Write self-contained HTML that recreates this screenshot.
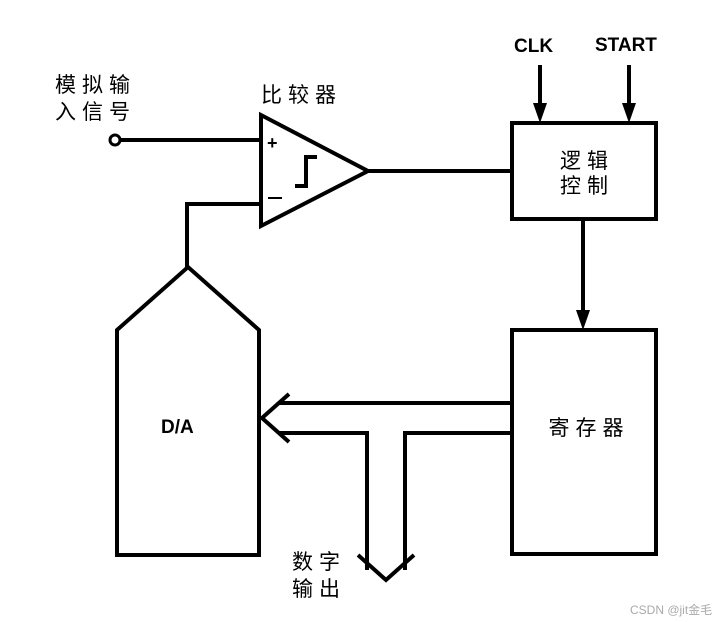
<!DOCTYPE html>
<html><head><meta charset="utf-8"><style>
html,body{margin:0;padding:0;background:#fff;}
svg{display:block;}
text{font-family:"Liberation Sans","Noto Sans CJK SC",sans-serif;fill:#000;}
.cj{font-size:21px;letter-spacing:6px;}
</style></head><body>
<svg width="720" height="622" viewBox="0 0 720 622" xmlns="http://www.w3.org/2000/svg">
<g fill="none" stroke="#000" stroke-width="4">
  <circle cx="115" cy="140" r="5" stroke-width="3"/>
  <line x1="120" y1="140" x2="260" y2="140"/>
  <polygon points="261,115 261,226 368,171" stroke-linejoin="miter"/>
  <polyline points="295,186 306,186 306,157 317,157" />
  <line x1="368" y1="171" x2="512" y2="171"/>
  <polyline points="260,204 187,204 187,267"/>
  <polygon points="117,555 117,330 188,267 259,330 259,555"/>
  <rect x="512" y="123" width="144" height="96"/>
  <line x1="540" y1="65" x2="540" y2="105"/>
  <line x1="629" y1="65" x2="629" y2="105"/>
  <line x1="583" y1="219" x2="583" y2="312"/>
  <rect x="512" y="330" width="144" height="224"/>
  <line x1="278" y1="403" x2="512" y2="403"/>
  <polyline points="278,433 367,433 367,570"/>
  <polyline points="512,433 405,433 405,570"/>
  <polyline points="289,394 262,418 289,442"/>
  <polyline points="358,555 386,580 414,555"/>
</g>
<g fill="#000">
  <polygon points="533,103 547,103 540,123"/>
  <polygon points="622,103 636,103 629,123"/>
  <polygon points="576,310 590,310 583,330"/>
</g>
<text x="267" y="149" font-size="18" font-weight="bold">+</text>
<line x1="268" y1="198" x2="282" y2="198" stroke="#000" stroke-width="2"/>
<text x="55" y="92" class="cj">模拟输</text>
<text x="55" y="119" class="cj">入信号</text>
<text x="261" y="102" class="cj">比较器</text>
<text x="514" y="52" font-size="19" font-weight="bold">CLK</text>
<text x="595" y="51" font-size="19" font-weight="bold">START</text>
<text x="587" y="168" class="cj" text-anchor="middle">逻辑</text>
<text x="587" y="193" class="cj" text-anchor="middle">控制</text>
<text x="589" y="435" class="cj" text-anchor="middle">寄存器</text>
<text x="161" y="433" font-size="19" font-weight="bold">D/A</text>
<text x="292" y="569" class="cj">数字</text>
<text x="292" y="596" class="cj">输出</text>
<text x="630" y="614" font-size="12" style="fill:#aaa">CSDN @jit金毛</text>
</svg>
</body></html>
